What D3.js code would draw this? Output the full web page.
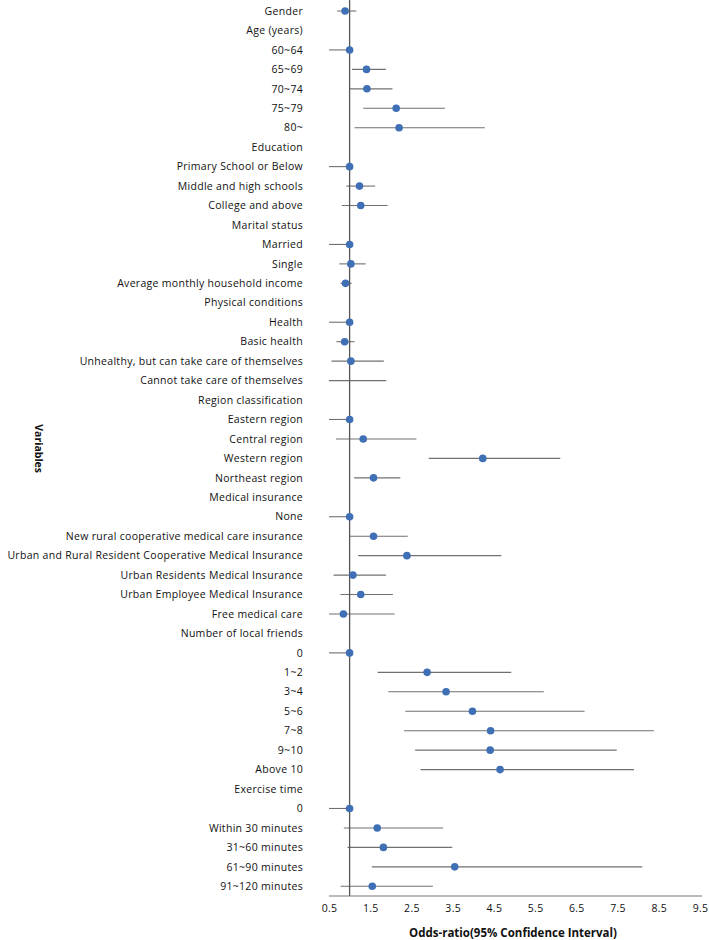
<!DOCTYPE html>
<html>
<head>
<meta charset="utf-8">
<script src="https://cdn.jsdelivr.net/npm/d3@7"></script>
<style>
  body { margin: 0; background: #fff; }
  svg text { font-family: "Open Sans", "DejaVu Sans", sans-serif; fill: #111; }
</style>
</head>
<body>
<svg id="chart" width="709" height="940"></svg>
<script>
// ===== Data: one row per variable / level (header rows have no estimate) =====
const labels = [
  'Gender', 'Age (years)', '60~64', '65~69', '70~74', '75~79', '80~',
  'Education', 'Primary School or Below', 'Middle and high schools', 'College and above',
  'Marital status', 'Married', 'Single', 'Average monthly household income',
  'Physical conditions', 'Health', 'Basic health',
  'Unhealthy, but can take care of themselves', 'Cannot take care of themselves',
  'Region classification', 'Eastern region', 'Central region', 'Western region', 'Northeast region',
  'Medical insurance', 'None', 'New rural cooperative medical care insurance',
  'Urban and Rural Resident Cooperative Medical Insurance', 'Urban Residents Medical Insurance',
  'Urban Employee Medical Insurance', 'Free medical care',
  'Number of local friends', '0', '1~2', '3~4', '5~6', '7~8', '9~10', 'Above 10',
  'Exercise time', '0', 'Within 30 minutes', '31~60 minutes', '61~90 minutes', '91~120 minutes'
];

const oddsRatio = [
  0.89, null, 1.00, 1.41, 1.42, 2.13, 2.20,
  null, 1.00, 1.24, 1.27,
  null, 1.00, 1.03, 0.90,
  null, 1.00, 0.88, 1.03, null,
  null, 1.00, 1.33, 4.23, 1.58,
  null, 1.00, 1.58, 2.39, 1.08, 1.27, 0.85,
  null, 1.00, 2.88, 3.34, 3.98, 4.42, 4.41, 4.65,
  null, 1.00, 1.67, 1.82, 3.55, 1.55
];

const ciLower = [
  0.70, null, 0.50, 1.06, 1.01, 1.33, 1.12,
  null, 0.50, 0.92, 0.81,
  null, 0.50, 0.75, 0.78,
  null, 0.50, 0.68, 0.56, 0.50,
  null, 0.50, 0.67, 2.92, 1.11,
  null, 0.50, 1.01, 1.21, 0.61, 0.78, 0.50,
  null, 0.50, 1.68, 1.94, 2.35, 2.32, 2.59, 2.72,
  null, 0.50, 0.86, 0.95, 1.54, 0.78
];

const ciUpper = [
  1.16, null, 1.00, 1.88, 2.04, 3.31, 4.28,
  null, 1.00, 1.62, 1.92,
  null, 1.00, 1.39, 1.05,
  null, 1.00, 1.12, 1.83, 1.89,
  null, 1.00, 2.62, 6.11, 2.23,
  null, 1.00, 2.41, 4.68, 1.88, 2.05, 2.09,
  null, 1.00, 4.92, 5.71, 6.70, 8.38, 7.48, 7.90,
  null, 1.00, 3.27, 3.49, 8.10, 3.02
];

const xTicks = [0.5, 1.5, 2.5, 3.5, 4.5, 5.5, 6.5, 7.5, 8.5, 9.5];

// ===== Layout =====
const plot = { left: 329, right: 700, top: 1.3, bottom: 896 };
const labelX = 303;

const svg = d3.select('#chart');
const rows = labels.map((label, i) => ({
  i, label, or: oddsRatio[i], lo: ciLower[i], hi: ciUpper[i]
}));

const x = d3.scaleLinear().domain([0.5, 9.5]).range([plot.left, plot.right]);
const y = d3.scalePoint().domain(d3.range(labels.length))
  .range([plot.top, plot.bottom]).padding(0.5);

// --- Row labels (right aligned) ---
svg.append('g').selectAll('text')
  .data(rows)
  .join('text')
    .attr('x', labelX)
    .attr('y', d => y(d.i))
    .attr('dy', '0.35em')
    .attr('text-anchor', 'end')
    .style('font-size', '10.5px')
    .style('letter-spacing', '0.3px')
    .text(d => d.label);

// --- Confidence interval lines ---
svg.append('g').selectAll('line')
  .data(rows.filter(d => d.lo != null))
  .join('line')
    .attr('x1', d => x(d.lo)).attr('x2', d => x(d.hi))
    .attr('y1', d => y(d.i)).attr('y2', d => y(d.i))
    .style('stroke', '#707070')
    .style('stroke-width', 1.1);

// --- Reference line at OR = 1 ---
svg.append('line')
  .attr('x1', x(1)).attr('x2', x(1))
  .attr('y1', 0).attr('y2', plot.bottom)
  .style('stroke', '#555')
  .style('stroke-width', 1.3);

// --- Point estimates ---
svg.append('g').selectAll('circle')
  .data(rows.filter(d => d.or != null))
  .join('circle')
    .attr('cx', d => x(d.or))
    .attr('cy', d => y(d.i))
    .attr('r', 3.8)
    .style('fill', '#3f6fb5');

// --- X axis ---
const xAxis = svg.append('g')
  .attr('transform', `translate(0,${plot.bottom})`)
  .call(d3.axisBottom(x).tickValues(xTicks).tickSize(0).tickPadding(9)
    .tickFormat(d3.format('.1f')));
xAxis.select('.domain')
  .attr('d', `M${plot.left},0H${plot.right + 2}`)
  .style('stroke', '#777')
  .style('stroke-width', 1.2);
xAxis.selectAll('text')
  .style('font-size', '10.5px')
  .style('letter-spacing', '0.3px')
  .style('font-family', '"Open Sans", sans-serif')
  .style('fill', '#111');

// --- Axis titles ---
svg.append('text')
  .attr('x', 513)
  .attr('y', 937)
  .attr('text-anchor', 'middle')
  .style('font-size', '11.5px')
  .style('font-weight', 'bold')
  .text('Odds-ratio(95% Confidence Interval)');

svg.append('text')
  .attr('transform', `translate(39,${(plot.top + plot.bottom) / 2}) rotate(90)`)
  .attr('text-anchor', 'middle')
  .attr('dy', '0.35em')
  .style('font-size', '10.5px')
  .style('font-weight', 'bold')
  .text('Variables');
</script>
</body>
</html>
